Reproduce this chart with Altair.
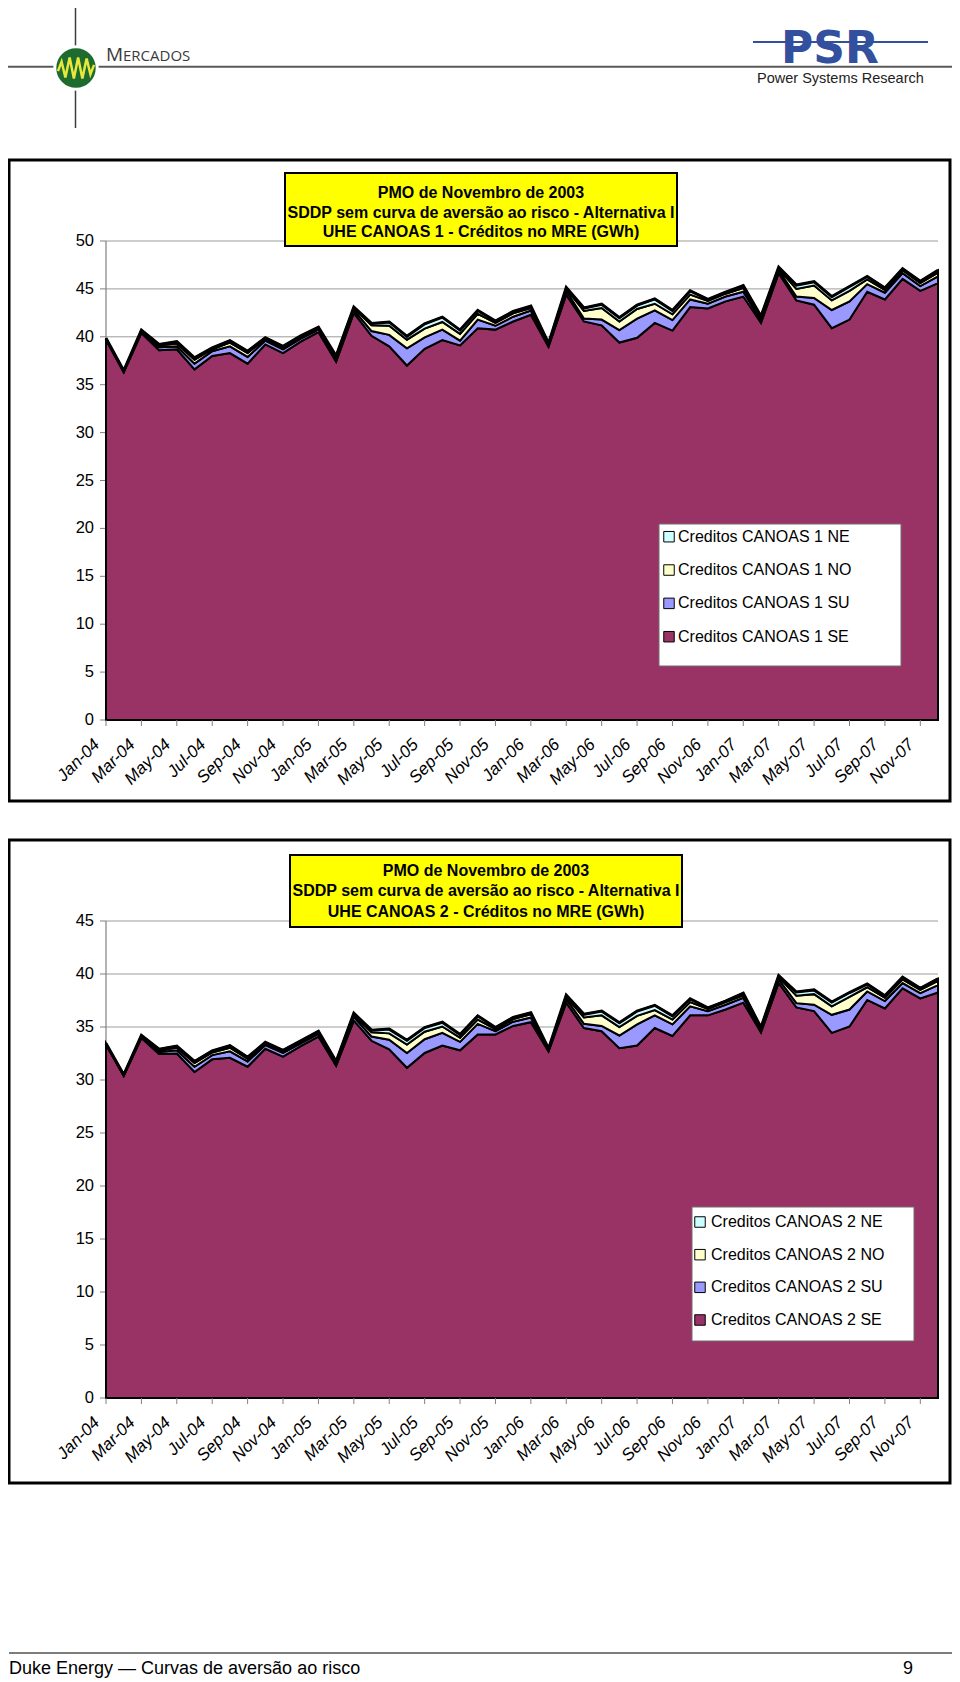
import altair as alt
import pandas as pd

FONT = "Liberation Sans, Arial, Helvetica, sans-serif"

MONTH_NAMES = ["Jan", "Feb", "Mar", "Apr", "May", "Jun", "Jul", "Aug", "Sep", "Oct", "Nov", "Dec"]
YEARS = ["04", "05", "06", "07"]
months = [f"{m}-{y}" for y in YEARS for m in MONTH_NAMES]

series_keys = ["SE", "SU", "NO", "NE"]
series_colors = ["#993366", "#9999FF", "#FFFFCC", "#CCFFFF"]

# ---- Chart 1 : UHE CANOAS 1 (GWh) ----
c1_se = [39.7, 36.3, 40.4, 38.6, 38.7, 36.6, 38.0, 38.3, 37.2, 39.2,
         38.3, 39.5, 40.5, 37.4, 42.5, 40.1, 39.0, 37.0, 38.75, 39.65,
         39.1, 40.9, 40.75, 41.6, 42.3, 38.95, 44.4, 41.6, 41.2, 39.4,
         39.9, 41.45, 40.65, 43.1, 42.95, 43.7, 44.2, 41.45, 46.65, 43.8,
         43.35, 40.9, 41.8, 44.7, 43.9, 46.05, 44.8, 45.6]
c1_su = [0.05, 0.05, 0.1, 0.3, 0.3, 0.6, 0.5, 0.7, 0.7, 0.4,
         0.4, 0.3, 0.25, 0.3, 0.3, 0.5, 1.2, 1.8, 1.2, 1.1,
         0.5, 0.9, 0.4, 0.5, 0.45, 0.15, 0.4, 0.3, 0.6, 1.3,
         2.0, 1.3, 1.1, 0.8, 0.5, 0.5, 0.5, 0.3, 0.3, 0.4,
         0.7, 1.9, 1.9, 0.8, 0.7, 0.6, 0.5, 0.7]
c1_no = [0.05, 0.05, 0.1, 0.2, 0.3, 0.4, 0.2, 0.4, 0.4, 0.2,
         0.2, 0.2, 0.15, 0.2, 0.2, 0.6, 0.95, 0.9, 0.9, 0.8,
         0.7, 0.6, 0.3, 0.35, 0.25, 0.1, 0.2, 0.8, 1.2, 0.9,
         1.0, 0.7, 0.6, 0.5, 0.3, 0.3, 0.4, 0.2, 0.15, 0.8,
         1.3, 1.0, 1.1, 0.5, 0.3, 0.3, 0.3, 0.4]
c1_ne = [0.05, 0.05, 0.1, 0.1, 0.2, 0.2, 0.15, 0.2, 0.2, 0.1,
         0.1, 0.1, 0.1, 0.1, 0.1, 0.2, 0.4, 0.35, 0.5, 0.5,
         0.4, 0.35, 0.2, 0.2, 0.2, 0.1, 0.15, 0.3, 0.4, 0.4,
         0.4, 0.5, 0.4, 0.4, 0.15, 0.15, 0.25, 0.2, 0.15, 0.4,
         0.4, 0.4, 0.45, 0.3, 0.2, 0.15, 0.2, 0.25]
c1_names = ["Creditos CANOAS 1 SE", "Creditos CANOAS 1 SU", "Creditos CANOAS 1 NO", "Creditos CANOAS 1 NE"]
c1_title = ["PMO de Novembro de 2003",
            "SDDP sem curva de aversão ao risco - Alternativa I",
            "UHE CANOAS 1 - Créditos no MRE (GWh)"]
c1_yticks = [0, 5, 10, 15, 20, 25, 30, 35, 40, 45, 50]

# ---- Chart 2 : UHE CANOAS 2 (GWh) ----
c2_se = [33.35, 30.4, 33.95, 32.45, 32.5, 30.75, 31.95, 32.1, 31.25, 32.95,
         32.2, 33.2, 34.1, 31.35, 35.6, 33.7, 32.9, 31.15, 32.55, 33.25,
         32.8, 34.3, 34.3, 35.1, 35.45, 32.7, 37.3, 34.9, 34.6, 33.0,
         33.25, 34.9, 34.15, 36.1, 36.1, 36.65, 37.3, 34.5, 39.15, 36.85,
         36.5, 34.45, 35.05, 37.55, 36.75, 38.65, 37.7, 38.25]
c2_su = [0.03, 0.03, 0.1, 0.2, 0.3, 0.5, 0.4, 0.6, 0.5, 0.35,
         0.35, 0.25, 0.25, 0.2, 0.35, 0.4, 0.9, 1.4, 1.3, 1.2,
         0.8, 1.0, 0.3, 0.4, 0.45, 0.1, 0.35, 0.4, 0.5, 1.2,
         2.0, 1.2, 1.1, 0.85, 0.4, 0.45, 0.45, 0.2, 0.35, 0.4,
         0.6, 1.7, 1.6, 0.8, 0.7, 0.5, 0.5, 0.7]
c2_no = [0.03, 0.03, 0.1, 0.15, 0.25, 0.35, 0.25, 0.35, 0.25, 0.15,
         0.15, 0.15, 0.15, 0.15, 0.2, 0.4, 0.6, 0.8, 0.7, 0.6,
         0.4, 0.4, 0.2, 0.25, 0.3, 0.1, 0.2, 0.6, 1.0, 0.8,
         0.8, 0.5, 0.45, 0.4, 0.2, 0.25, 0.25, 0.15, 0.2, 0.7,
         1.0, 0.8, 1.2, 0.4, 0.3, 0.35, 0.3, 0.4]
c2_ne = [0.03, 0.03, 0.05, 0.1, 0.15, 0.15, 0.15, 0.2, 0.15, 0.1,
         0.1, 0.1, 0.1, 0.05, 0.15, 0.2, 0.4, 0.4, 0.4, 0.4,
         0.3, 0.35, 0.15, 0.15, 0.15, 0.05, 0.15, 0.3, 0.4, 0.4,
         0.45, 0.45, 0.35, 0.3, 0.1, 0.1, 0.2, 0.1, 0.15, 0.35,
         0.4, 0.4, 0.4, 0.3, 0.2, 0.2, 0.15, 0.2]
c2_names = ["Creditos CANOAS 2 SE", "Creditos CANOAS 2 SU", "Creditos CANOAS 2 NO", "Creditos CANOAS 2 NE"]
c2_title = ["PMO de Novembro de 2003",
            "SDDP sem curva de aversão ao risco - Alternativa I",
            "UHE CANOAS 2 - Créditos no MRE (GWh)"]
c2_yticks = [0, 5, 10, 15, 20, 25, 30, 35, 40, 45]

footer_text = "Duke Energy \u2014 Curvas de aversão ao risco"
page_number = "9"


def panel(se, su, no, ne, names, title_lines, yticks, y_range, frame,
          tbox, title_y, title_cx, lbox, leg_y, leg_sw_x, leg_tx):
    ymax = yticks[-1]
    xs = alt.Scale(domain=[0, len(months) - 1], range=[98, 930], nice=False, zero=False)
    ys = alt.Scale(domain=[0, ymax], range=y_range, nice=False, zero=False)
    cscale = alt.Scale(domain=names, range=series_colors)

    rows = []
    for k, vals in enumerate([se, su, no, ne]):
        for i, v in enumerate(vals):
            rows.append({"t": i, "month": months[i], "series": names[k], "ord": k, "value": v})
    df = pd.DataFrame(rows)
    tot = pd.DataFrame({"t": list(range(len(months))),
                        "total": [a + b + c + d for a, b, c, d in zip(se, su, no, ne)]})
    gdf = pd.DataFrame({"v": yticks})
    xl = pd.DataFrame({"t": list(range(0, len(months), 2)), "label": months[::2], "z": 0})
    ax = pd.DataFrame({"lo": [0], "hi": [ymax], "a": [0]})

    L = []
    # outer frame
    L.append(alt.Chart().mark_rect(fill="white", stroke="black", strokeWidth=3).encode(
        x=alt.value(frame[0]), x2=alt.value(frame[1]), y=alt.value(frame[2]), y2=alt.value(frame[3])))
    # gridlines
    L.append(alt.Chart(gdf).mark_rule(color="#9c9c9c", strokeWidth=1).encode(
        y=alt.Y("v:Q", scale=ys, axis=None),
        x=alt.XDatum(0, scale=xs, axis=None), x2=alt.X2Datum(len(months) - 1)))
    # y axis line
    L.append(alt.Chart(ax).mark_rule(color="#808080", strokeWidth=1.2).encode(
        x=alt.X("a:Q", scale=xs, axis=None),
        y=alt.Y("lo:Q", scale=ys, axis=None), y2="hi:Q"))
    # y ticks
    L.append(alt.Chart(gdf).mark_rule(color="#808080", strokeWidth=1).encode(
        y=alt.Y("v:Q", scale=ys, axis=None), x=alt.value(92), x2=alt.value(98)))
    # y labels
    L.append(alt.Chart(gdf).mark_text(align="right", baseline="middle", fontSize=16.5, font=FONT,
                                      color="black").encode(
        x=alt.value(86), y=alt.Y("v:Q", scale=ys, axis=None), text=alt.Text("v:Q")))
    # stacked areas
    L.append(alt.Chart(df).mark_area(stroke="black", strokeWidth=2, opacity=1,
                                     interpolate="linear").encode(
        x=alt.X("t:Q", scale=xs, axis=None),
        y=alt.Y("value:Q", stack="zero", scale=ys, axis=None),
        color=alt.Color("series:N", scale=cscale, legend=None),
        order=alt.Order("ord:Q")))
    # thick top outline
    L.append(alt.Chart(tot).mark_line(color="black", strokeWidth=3).encode(
        x=alt.X("t:Q", scale=xs, axis=None), y=alt.Y("total:Q", scale=ys, axis=None)))
    # x ticks
    L.append(alt.Chart(xl).mark_rule(color="#808080", strokeWidth=1).encode(
        x=alt.X("t:Q", scale=xs, axis=None), y=alt.Y("z:Q", scale=ys, axis=None),
        y2=alt.value(y_range[0] + 6)))
    # x labels
    L.append(alt.Chart(xl).mark_text(angle=315, align="right", baseline="middle", fontSize=17,
                                     fontStyle="italic", font=FONT, color="black",
                                     xOffset=-9, yOffset=22).encode(
        x=alt.X("t:Q", scale=xs, axis=None), y=alt.Y("z:Q", scale=ys, axis=None),
        text="label:N"))
    # title box
    L.append(alt.Chart().mark_rect(fill="#FFFF00", stroke="black", strokeWidth=2).encode(
        x=alt.value(tbox[0]), x2=alt.value(tbox[1]), y=alt.value(tbox[2]), y2=alt.value(tbox[3])))
    for line, yy in zip(title_lines, title_y):
        L.append(alt.Chart().mark_text(text=line, align="center", baseline="middle", fontSize=16,
                                       fontWeight="bold", font=FONT, color="black").encode(
            x=alt.value(title_cx), y=alt.value(yy)))
    # legend
    L.append(alt.Chart().mark_rect(fill="white", stroke="#6e6e6e", strokeWidth=1).encode(
        x=alt.value(lbox[0]), x2=alt.value(lbox[1]), y=alt.value(lbox[2]), y2=alt.value(lbox[3])))
    ldf = pd.DataFrame({"series": names[::-1]})
    lys = alt.Scale(type="point", domain=names[::-1], range=leg_y, padding=0)
    L.append(alt.Chart(ldf).mark_square(size=110, stroke="black", strokeWidth=1, opacity=1).encode(
        x=alt.value(leg_sw_x), y=alt.Y("series:N", scale=lys, axis=None),
        color=alt.Color("series:N", scale=cscale, legend=None)))
    L.append(alt.Chart(ldf).mark_text(align="left", baseline="middle", fontSize=16, font=FONT,
                                      color="black").encode(
        x=alt.value(leg_tx), y=alt.Y("series:N", scale=lys, axis=None), text="series:N"))
    return L


layers = []

# ---- page header ----
layers.append(alt.Chart().mark_rule(color="#5a5a5a", strokeWidth=2).encode(
    x=alt.value(0), x2=alt.value(944), y=alt.value(58.7)))
layers.append(alt.Chart().mark_rule(color="#3c3c3c", strokeWidth=1.5).encode(
    x=alt.value(67.5), y=alt.value(0), y2=alt.value(120)))
layers.append(alt.Chart().mark_point(shape="circle", size=1800, filled=True, fill="#1d6b2f",
                                     stroke="white", strokeWidth=3, opacity=1).encode(
    x=alt.value(68), y=alt.value(60)))
layers.append(alt.Chart().mark_point(
    shape="M-0.85,0.15 L-0.68,-0.3 L-0.5,0.45 L-0.3,-0.5 L-0.1,0.5 L0.1,-0.5 L0.3,0.5 L0.5,-0.45 L0.68,0.3 L0.85,-0.15",
    size=1800, filled=False, stroke="#e8e83c", strokeWidth=2.5, opacity=1).encode(
    x=alt.value(68), y=alt.value(60)))
layers.append(alt.Chart().mark_text(text="M", align="left", baseline="alphabetic", fontSize=19,
                                    font="Open Sans, Liberation Sans, sans-serif", color="#3a3a3a").encode(
    x=alt.value(98), y=alt.value(53)))
layers.append(alt.Chart().mark_text(text="ERCADOS", align="left", baseline="alphabetic", fontSize=15,
                                    font="Open Sans, Liberation Sans, sans-serif", color="#3a3a3a").encode(
    x=alt.value(115), y=alt.value(53)))
layers.append(alt.Chart().mark_text(text="PSR", align="center", baseline="alphabetic", fontSize=44,
                                    fontWeight="bold", font="DejaVu Sans, Liberation Sans, sans-serif",
                                    color="#33509e").encode(
    x=alt.value(822), y=alt.value(55)))
layers.append(alt.Chart().mark_rule(color="#33509e", strokeWidth=2).encode(
    x=alt.value(745), x2=alt.value(920), y=alt.value(34)))
layers.append(alt.Chart().mark_text(text="Power Systems Research", align="left", baseline="middle",
                                    fontSize=14.5, font=FONT, color="#222222").encode(
    x=alt.value(749), y=alt.value(71)))

# ---- chart 1 ----
layers += panel(c1_se, c1_su, c1_no, c1_ne, c1_names, c1_title, c1_yticks,
                y_range=[712, 233], frame=(1, 942, 152, 793),
                tbox=(277, 669, 165, 238), title_y=[185, 204.5, 224], title_cx=473,
                lbox=(651, 893, 516, 658), leg_y=[528.7, 628.7], leg_sw_x=661, leg_tx=670)

# ---- chart 2 ----
layers += panel(c2_se, c2_su, c2_no, c2_ne, c2_names, c2_title, c2_yticks,
                y_range=[1390, 913], frame=(1, 942, 832, 1475),
                tbox=(282, 674, 847, 919), title_y=[863, 883, 904], title_cx=478,
                lbox=(684, 906, 1199, 1333), leg_y=[1214, 1312], leg_sw_x=692, leg_tx=703)

# ---- footer ----
layers.append(alt.Chart().mark_rule(color="#505050", strokeWidth=1.5).encode(
    x=alt.value(1), x2=alt.value(944), y=alt.value(1645)))
layers.append(alt.Chart().mark_text(text=footer_text, align="left", baseline="alphabetic", fontSize=18,
                                    font=FONT, color="black").encode(
    x=alt.value(1), y=alt.value(1666)))
layers.append(alt.Chart().mark_text(text=page_number, align="right", baseline="alphabetic", fontSize=18,
                                    font=FONT, color="black").encode(
    x=alt.value(905), y=alt.value(1666)))

chart = alt.layer(*layers).properties(
    width=944, height=1672, padding=0, background="white",
    autosize=alt.AutoSizeParams(type="none")
).resolve_scale(x="independent", y="independent", color="independent").configure_view(stroke=None)

chart.save("out.html", embed_options={"renderer": "svg", "actions": False})
